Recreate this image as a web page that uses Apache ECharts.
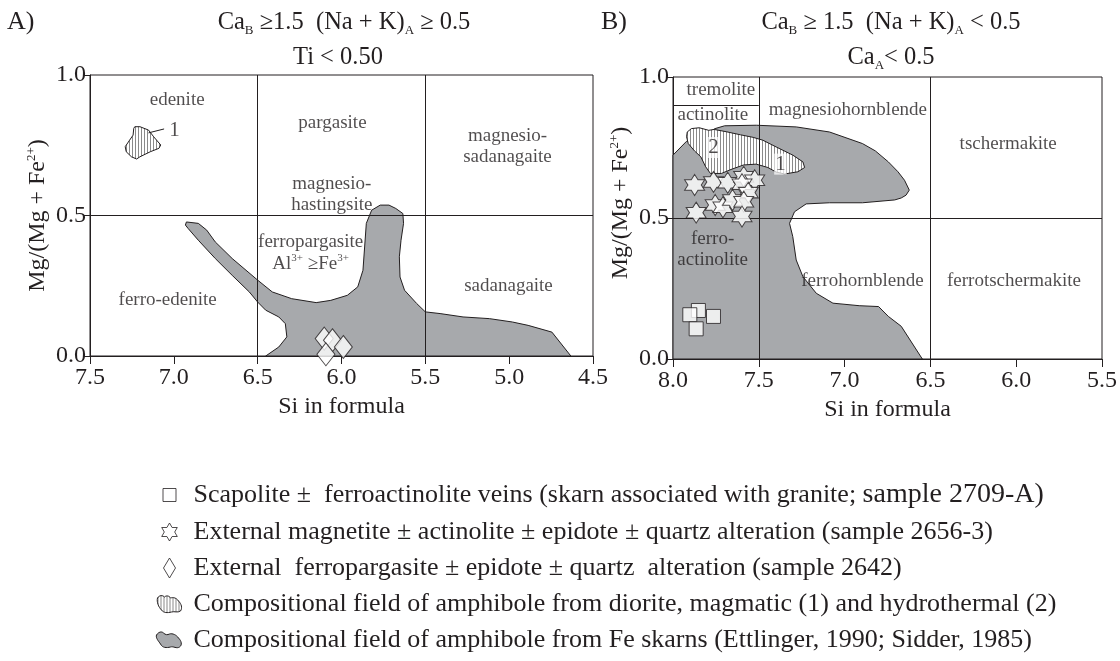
<!DOCTYPE html>
<html>
<head>
<meta charset="utf-8">
<script src="https://cdn.jsdelivr.net/npm/echarts@6.0.0/dist/echarts.min.js"></script>
<style>
html,body{margin:0;padding:0;background:#fff;}
#chart{width:1120px;height:661px;}
</style>
</head>
<body>
<div id="chart"></div>
<script>
// ---------------- data ----------------
const xRangeA = [4.5, 7.5];
const xRangeB = [5.5, 8.0];
const yRange = [0, 1];
const tickStep = 0.5;

// Fe-skarn amphibole field (grey), panel A  [Si, Mg/(Mg+Fe2+)]
const skarnFieldA = [
  [6.452,0.000],[6.374,0.032],[6.326,0.068],[6.335,0.115],[6.374,0.139],[6.452,0.163],
  [6.500,0.192],[6.550,0.228],[6.652,0.287],[6.753,0.347],[6.854,0.412],[6.915,0.454],
  [6.931,0.466],[6.925,0.477],[6.854,0.472],[6.804,0.448],[6.753,0.406],[6.652,0.347],
  [6.500,0.270],[6.413,0.228],[6.297,0.204],[6.151,0.190],[6.064,0.198],[5.965,0.216],
  [5.903,0.246],[5.872,0.305],[5.862,0.388],[5.852,0.472],[5.820,0.519],[5.769,0.537],
  [5.717,0.537],[5.676,0.525],[5.634,0.507],[5.630,0.472],[5.645,0.412],[5.655,0.353],
  [5.651,0.281],[5.624,0.234],[5.552,0.187],[5.500,0.157],[5.412,0.151],[5.275,0.139],
  [5.118,0.133],[4.981,0.121],[4.887,0.109],[4.745,0.085],[4.632,0.000]
];
// diorite amphibole field (hatched), panel A
const dioriteFieldA = [
  [7.233,0.816],[7.202,0.816],[7.151,0.804],[7.120,0.780],[7.078,0.751],[7.089,0.739],
  [7.140,0.727],[7.202,0.709],[7.222,0.701],[7.253,0.709],[7.284,0.727],[7.290,0.745],
  [7.264,0.768],[7.243,0.786],[7.239,0.810]
];
// Fe-skarn amphibole field (grey), panel B
const skarnFieldB = [
  [8.000,0.723],[7.921,0.772],[7.847,0.785],[7.755,0.817],[7.699,0.827],[7.515,0.829],
  [7.282,0.823],[7.088,0.805],[6.896,0.764],[6.821,0.738],[6.745,0.699],[6.689,0.664],
  [6.651,0.634],[6.623,0.599],[6.642,0.581],[6.670,0.571],[6.708,0.564],[6.896,0.554],
  [7.088,0.554],[7.224,0.550],[7.292,0.522],[7.321,0.481],[7.302,0.434],[7.282,0.351],
  [7.243,0.292],[7.165,0.233],[7.068,0.198],[6.915,0.189],[6.802,0.186],[6.745,0.151],
  [6.670,0.116],[6.547,0.000],[8.000,0.000]
];
// diorite amphibole field (hatched), panel B
const dioriteFieldB = [
  [7.917,0.805],[7.893,0.817],[7.847,0.820],[7.792,0.811],[7.760,0.814],[7.690,0.806],
  [7.607,0.795],[7.533,0.786],[7.477,0.776],[7.399,0.752],[7.302,0.723],[7.243,0.699],
  [7.233,0.679],[7.272,0.664],[7.350,0.656],[7.399,0.663],[7.447,0.679],[7.515,0.691],
  [7.589,0.688],[7.662,0.672],[7.718,0.658],[7.782,0.658],[7.810,0.682],[7.838,0.717],
  [7.875,0.738],[7.911,0.764],[7.921,0.788]
];
// sample points
const diamondsA = [[6.103,0.062],[6.054,0.056],[5.989,0.032],[6.093,0.006]];
const squaresB = [[7.852,0.172],[7.902,0.157],[7.764,0.151],[7.865,0.107]];
const starsB = [
  [7.874,0.617],[7.764,0.628],[7.681,0.625],[7.588,0.646],[7.524,0.634],[7.598,0.620],
  [7.561,0.590],[7.754,0.546],[7.709,0.538],[7.653,0.564],[7.588,0.558],[7.865,0.519],
  [7.598,0.505]
];
// classification boundaries
const boundaryXA = [6.5, 5.5];
const boundaryYA = [0.5];
const boundaryXB = [7.5, 6.5];
const boundaryYB = [0.5];
const tremoliteLineB = [[8.0,0.9],[7.5,0.9]];
const leaderA = [[7.151,0.794],[7.058,0.808]];
// field names
const regionLabelsA = [
  [6.980,0.911,'edenite'],
  [6.054,0.830,'pargasite'],
  [5.010,0.747,'magnesio-\nsadanagaite'],
  [6.058,0.576,'magnesio-\nhastingsite'],
  [6.184,0.406,'ferropargasite'],
  [6.184,0.329,'Al{sup|3+} ≥Fe{sup|3+}'],
  [7.037,0.198,'ferro-edenite'],
  [5.004,0.248,'sadanagaite']
];
const fieldNumbersA = [[6.996,0.804,'1']];
const regionLabelsB = [
  [7.721,0.955,'tremolite'],
  [7.768,0.864,'actinolite'],
  [6.981,0.882,'magnesiohornblende'],
  [6.047,0.764,'tschermakite'],
  [7.769,0.387,'ferro-\nactinolite'],
  [6.896,0.275,'ferrohornblende'],
  [6.013,0.278,'ferrotschermakite']
];
const fieldNumbersB = [[7.764,0.750,'2'],[7.374,0.691,'1']];

const legendNames = [
  'Scapolite ±  ferroactinolite veins (skarn associated with granite; sample 2709-A)',
  'External magnetite ± actinolite ± epidote ± quartz alteration (sample 2656-3)',
  'External  ferropargasite ± epidote ± quartz  alteration (sample 2642)',
  'Compositional field of amphibole from diorite, magmatic (1) and hydrothermal (2)',
  'Compositional field of amphibole from Fe skarns (Ettlinger, 1990; Sidder, 1985)'
];

// ---------------- styles ----------------
const FONT = 'Liberation Serif';
const INK = '#231f20';
const GRAY = '#a7a9ac';
const hatch = (function () {
  const c = document.createElement('canvas');
  c.width = 3; c.height = 3;
  const g = c.getContext('2d');
  g.fillStyle = '#ffffff'; g.fillRect(0, 0, 3, 3);
  g.fillStyle = '#8a8a8a'; g.fillRect(0, 0, 1, 3);
  return { image: c, repeat: 'repeat' };
})();

const STAR = 'path://M50 0L64.43 25L93.3 25L78.87 50L93.3 75L64.43 75L50 100L35.57 75L6.7 75L21.13 50L6.7 25L35.57 25Z';
const ICON_SQUARE = 'path://M0 0M3.5 3.5L16.5 3.5L16.5 16.5L3.5 16.5ZM20 20';
const ICON_STAR = 'path://M0 0M10 1L12.6 5.5L17.79 5.5L15.2 10L17.79 14.5L12.6 14.5L10 19L7.4 14.5L2.21 14.5L4.8 10L2.21 5.5L7.4 5.5ZM20 20';
const ICON_DIAMOND = 'path://M0 0M10 0L16 10L10 20L4 10ZM20 20';
const ICON_BLOB1 = 'path://M0 0M3 4C5 1 8 1 10 3C12 1 15 2 16 4C19 3 22 4 24 7C27 10 28 14 26 17C23 19 20 17 17 18C13 19 9 19 7 16C4 13 2 8 3 4ZM30 20';
const ICON_BLOB2 = 'path://M0 0M2 5C4 2 7 1 9 3C11 5 13 5 15 4C18 3 22 5 24 8C27 11 28 15 25 17C22 19 19 16 16 17C12 18 8 18 6 14C4 11 1 8 2 5ZM30 20';

const headRich = {
  sub: { fontSize: 13, fontFamily: FONT, color: INK, verticalAlign: 'bottom' },
  n: { fontSize: 24.5, fontFamily: FONT, color: INK, lineHeight: 28 }
};

function polygonRenderer(points, fill) {
  return function (params, api) {
    if (params.dataIndex !== 0) return null;
    return {
      type: 'polygon',
      shape: { points: points.map(function (p) { return api.coord(p); }) },
      style: { fill: fill, stroke: INK, lineWidth: 1 }
    };
  };
}

function xAxisOf(gi, range) {
  return {
    gridIndex: gi, type: 'value', min: range[0], max: range[1], interval: tickStep, inverse: true,
    axisLine: { show: true, onZero: false, lineStyle: { color: INK, width: 1 } },
    axisTick: { show: true, length: 8, lineStyle: { color: INK, width: 1 } },
    axisLabel: { margin: 10, fontSize: 24, fontFamily: FONT, color: INK,
      formatter: function (v) { return v.toFixed(1); } },
    splitLine: { show: false },
    name: 'Si in formula', nameLocation: 'middle', nameGap: 39,
    nameTextStyle: { fontSize: 24, fontFamily: FONT, color: INK }
  };
}
function yAxisOf(gi, pad) {
  return {
    gridIndex: gi, type: 'value', min: yRange[0], max: yRange[1], interval: tickStep,
    axisLine: { show: true, onZero: false, lineStyle: { color: INK, width: 1 } },
    axisTick: { show: true, length: 7, lineStyle: { color: INK, width: 1 } },
    axisLabel: { margin: 4, fontSize: 24, fontFamily: FONT, color: INK,
      formatter: function (v) { return v.toFixed(1); } },
    splitLine: { show: false },
    name: '{n|Mg/(Mg + Fe}{sup|2+}{n|)}', nameLocation: 'middle', nameGap: 39,
    nameTextStyle: { fontSize: 24, fontFamily: FONT, color: INK, padding: pad,
      rich: { n: { fontSize: 24, fontFamily: FONT, color: INK, lineHeight: 26 },
              sup: { fontSize: 13, fontFamily: FONT, color: INK, verticalAlign: 'top' } } }
  };
}

function labelData(list) {
  return list.map(function (d) { return { value: [d[0], d[1]], name: d[2] }; });
}
const regionLabelStyle = {
  show: true, position: 'inside', fontSize: 19, fontFamily: FONT, color: INK, lineHeight: 21,
  formatter: function (p) { return p.name; },
  rich: { sup: { fontSize: 11, fontFamily: FONT, color: INK, verticalAlign: 'top' } }
};
const lineStyle = { color: INK, width: 1, type: 'solid' };

function markLinesOf(xs, ys, segs) {
  const data = [];
  xs.forEach(function (v) { data.push({ xAxis: v }); });
  ys.forEach(function (v) { data.push({ yAxis: v }); });
  segs.forEach(function (s) { data.push([{ coord: s[0] }, { coord: s[1] }]); });
  return { silent: true, symbol: ['none', 'none'], label: { show: false },
    lineStyle: lineStyle, emphasis: { disabled: true }, animation: false, data: data };
}

const markerStyle = { color: '#ffffff', borderColor: INK, borderWidth: 1 };

const option = {
  backgroundColor: '#ffffff',
  animation: false,
  title: [
    { text: 'A)', left: 7, top: 9, padding: 0, textStyle: { fontSize: 26, fontWeight: 'normal', fontFamily: FONT, color: INK } },
    { text: '{n|Ca}{sub|B}{n| ≥1.5  (Na + K)}{sub|A}{n| ≥ 0.5}', left: 344, top: 9, padding: 0, textAlign: 'center',
      textStyle: { fontWeight: 'normal', rich: headRich } },
    { text: 'Ti < 0.50', left: 338, top: 45, padding: 0, textAlign: 'center',
      textStyle: { fontSize: 24.5, fontWeight: 'normal', fontFamily: FONT, color: INK } },
    { text: 'B)', left: 601, top: 9, padding: 0, textStyle: { fontSize: 26, fontWeight: 'normal', fontFamily: FONT, color: INK } },
    { text: '{n|Ca}{sub|B}{n| ≥ 1.5  (Na + K)}{sub|A}{n| < 0.5}', left: 891, top: 9, padding: 0, textAlign: 'center',
      textStyle: { fontWeight: 'normal', rich: headRich } },
    { text: '{n|Ca}{sub|A}{n|< 0.5}', left: 891, top: 44, padding: 0, textAlign: 'center',
      textStyle: { fontWeight: 'normal', rich: headRich } }
  ],
  legend: {
    left: 149, top: 476, orient: 'vertical', itemWidth: 36, itemHeight: 20, itemGap: 10,
    selectedMode: false, symbolKeepAspect: true,
    formatter: function (name) {
      if (name === legendNames[0]) {
        return '{a|Scapolite ±  ferroactinolite veins (skarn associated with granite; }{b|sample 2709-A)}';
      }
      return '{a|' + name + '}';
    },
    textStyle: { fontSize: 26, fontFamily: FONT, color: INK,
      rich: { a: { fontSize: 26, fontFamily: FONT, color: INK, lineHeight: 27, padding: [0, 0, 0, 1] },
              b: { fontSize: 28, fontFamily: FONT, color: INK, lineHeight: 27 } } },
    data: [
      { name: legendNames[0], icon: ICON_SQUARE, itemStyle: markerStyle },
      { name: legendNames[1], icon: ICON_STAR, itemStyle: markerStyle },
      { name: legendNames[2], icon: ICON_DIAMOND, itemStyle: markerStyle },
      { name: legendNames[3], icon: ICON_BLOB1, itemStyle: { color: hatch, borderColor: INK, borderWidth: 1 } },
      { name: legendNames[4], icon: ICON_BLOB2, itemStyle: { color: GRAY, borderColor: INK, borderWidth: 1 } }
    ]
  },
  grid: [
    { left: 90, top: 75, width: 503, height: 281, show: true, borderColor: INK, borderWidth: 1, backgroundColor: 'transparent' },
    { left: 673, top: 77, width: 434, height: 282, show: true, borderColor: INK, borderWidth: 1, backgroundColor: 'transparent' }
  ],
  xAxis: [xAxisOf(0, xRangeA), xAxisOf(1, xRangeB)],
  yAxis: [yAxisOf(0, [0, 0, 0, 0]), yAxisOf(1, [0, 0, 0, 30])],
  series: [
    { type: 'custom', name: legendNames[4], xAxisIndex: 0, yAxisIndex: 0, z: 1, silent: true,
      data: skarnFieldA, renderItem: polygonRenderer(skarnFieldA, GRAY), itemStyle: { color: GRAY } },
    { type: 'custom', name: legendNames[3], xAxisIndex: 0, yAxisIndex: 0, z: 2, silent: true,
      data: dioriteFieldA, renderItem: polygonRenderer(dioriteFieldA, hatch), itemStyle: { color: hatch } },
    { type: 'custom', name: legendNames[4], xAxisIndex: 1, yAxisIndex: 1, z: 1, silent: true,
      data: skarnFieldB, renderItem: polygonRenderer(skarnFieldB, GRAY), itemStyle: { color: GRAY } },
    { type: 'custom', name: legendNames[3], xAxisIndex: 1, yAxisIndex: 1, z: 2, silent: true,
      data: dioriteFieldB, renderItem: polygonRenderer(dioriteFieldB, hatch), itemStyle: { color: hatch } },
    { type: 'scatter', name: 'labelsA', xAxisIndex: 0, yAxisIndex: 0, z: 7, silent: true,
      symbolSize: 0, data: labelData(regionLabelsA), label: regionLabelStyle,
      markLine: markLinesOf(boundaryXA, boundaryYA, [leaderA]) },
    { type: 'scatter', name: 'numbersA', xAxisIndex: 0, yAxisIndex: 0, z: 7, silent: true,
      symbolSize: 0, data: labelData(fieldNumbersA),
      label: { show: true, position: 'inside', fontSize: 21, fontFamily: FONT, color: INK,
        formatter: function (p) { return p.name; } } },
    { type: 'scatter', name: 'labelsB', xAxisIndex: 1, yAxisIndex: 1, z: 7, silent: true,
      symbolSize: 0, data: labelData(regionLabelsB), label: regionLabelStyle,
      markLine: markLinesOf(boundaryXB, boundaryYB, [tremoliteLineB]) },
    { type: 'scatter', name: 'numbersB', xAxisIndex: 1, yAxisIndex: 1, z: 7, silent: true,
      symbolSize: 0, data: labelData(fieldNumbersB),
      label: { show: true, position: 'inside', fontSize: 21, fontFamily: FONT, color: INK,
        backgroundColor: 'rgba(255,255,255,0.9)', padding: [0, 1, 0, 1],
        formatter: function (p) { return p.name; } } },
    { type: 'scatter', name: legendNames[2], xAxisIndex: 0, yAxisIndex: 0, z: 8, silent: true,
      symbol: 'diamond', symbolSize: [18, 23], itemStyle: markerStyle, data: diamondsA },
    { type: 'scatter', name: legendNames[0], xAxisIndex: 1, yAxisIndex: 1, z: 8, silent: true,
      symbol: 'rect', symbolSize: 14, itemStyle: markerStyle, data: squaresB },
    { type: 'scatter', name: legendNames[1], xAxisIndex: 1, yAxisIndex: 1, z: 8, silent: true,
      symbol: STAR, symbolSize: [20, 21], itemStyle: markerStyle, data: starsB }
  ]
};

const chart = echarts.init(document.getElementById('chart'), null, { renderer: 'canvas' });
chart.setOption(option);
</script>
</body>
</html>
